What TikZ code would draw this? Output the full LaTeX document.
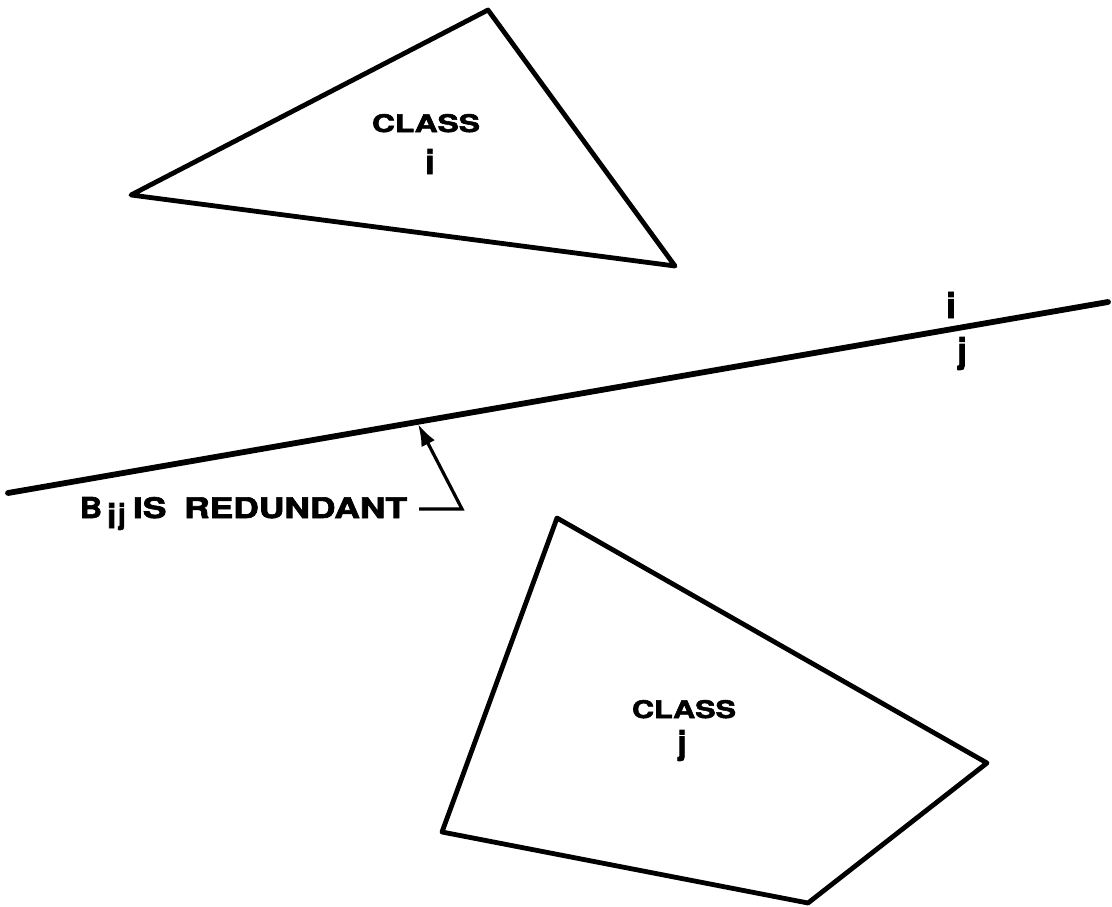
\documentclass[tikz,border=0pt]{standalone}
\usepackage{fontspec}
\setmainfont{TeX Gyre Heros}[BoldFeatures={FakeBold=2.2}]
\usetikzlibrary{arrows.meta}
\newcommand{\fitbox}[3]{\resizebox{#1}{#2}{\bfseries #3}}
\newcommand{\fitboxd}[2]{\resizebox*{!}{#1}{\bfseries #2}}
\begin{document}
\begin{tikzpicture}[x=1pt,y=-1pt,
  poly/.style={line width=4.8pt,line join=round},
  bound/.style={line width=5.8pt,line cap=round},
  lead/.style={line width=3.2pt,line join=miter},
  txt/.style={inner sep=0pt,outer sep=0pt}]
\useasboundingbox[fill=white] (0,0) rectangle (1112,907);
% classes
\draw[poly] (488,10) -- (131,195) -- (675,266) -- cycle;
\draw[poly] (557,518) -- (442,832) -- (808,903) -- (987,763) -- cycle;
% boundary
\coordinate (bl) at (8,493);
\coordinate (br) at (1108,302);
\draw[bound] (bl) -- (br);
% class labels
\node[txt,anchor=north] (ci) at (426,114) {\fitbox{108pt}{18pt}{CLASS}};
\node[txt,anchor=north] (ii) at (430,149) {\fitbox{!}{25pt}{i}};
\node[txt,anchor=north] (cj) at (684,700) {\fitbox{104pt}{18pt}{CLASS}};
\node[txt,anchor=north] (jj) at (682,730) {\fitboxd{31pt}{j}};
% side labels
\node[txt,anchor=north] (si) at (951,292) {\fitbox{!}{26pt}{i}};
\node[txt,anchor=north] (sj) at (962,337) {\fitboxd{33pt}{j}};
% redundant label
\node[txt,anchor=north west] (B) at (80,497) {\fitbox{22pt}{21pt}{B}};
\node[txt,anchor=north west] (bi) at (107,503) {\fitbox{!}{25pt}{i}};
\node[txt,anchor=north west] (bj) at (118,503) {\fitboxd{27pt}{j}};
\node[txt,anchor=north west] (red) at (133,497) {\fitbox{274pt}{21pt}{IS\hspace{0.5em}REDUNDANT}};
\coordinate (dash) at (419,509);
\coordinate (foot) at (462,509);
\coordinate (tip) at (418,424);
\draw[lead,-{Latex[length=22pt,width=15pt]}] (dash) -- (foot) -- (tip);
\end{tikzpicture}
\end{document}
